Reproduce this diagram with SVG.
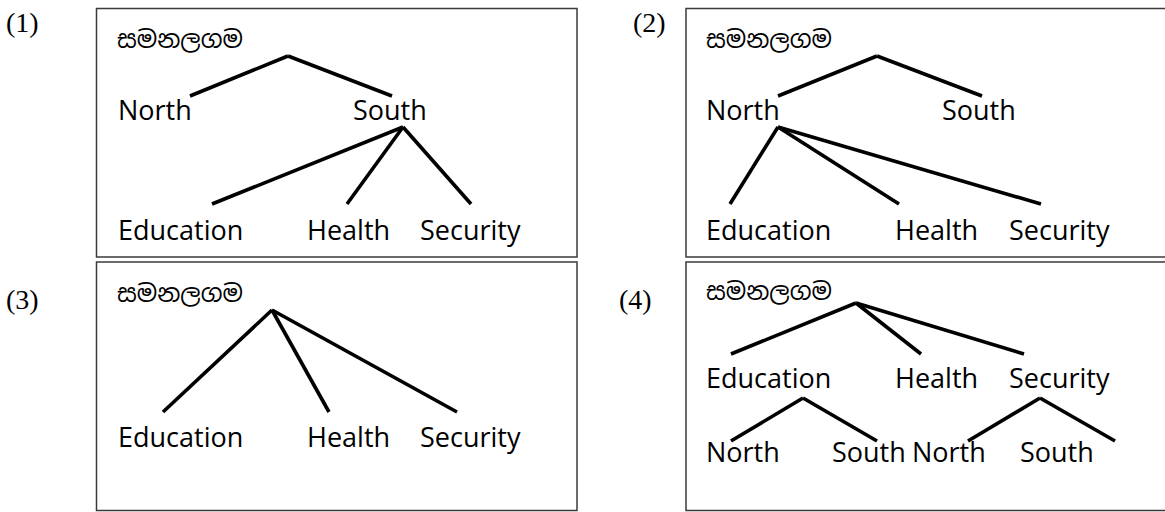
<svg xmlns="http://www.w3.org/2000/svg" width="1165" height="512" viewBox="0 0 1165 512">
<style>
.box{fill:#fff;stroke:#3a3a3a;stroke-width:1.5}
.num{font-family:"Liberation Serif","Times New Roman",serif;font-size:28px;fill:#000}
.si{font-family:"Noto Sans Sinhala","Iskoola Pota","Noto Sans",sans-serif;font-size:24px;fill:#000}
.t{font-family:"Open Sans","Noto Sans",sans-serif;font-size:27px;fill:#000}
.c line{stroke:#000;stroke-width:3.6;stroke-linecap:butt}
</style>
<rect width="1165" height="512" fill="#fff"/>
<!-- Panel 1 -->
<g id="panel1">
<text class="num" x="6" y="32">(1)</text>
<rect class="box" x="96.5" y="8.5" width="480.5" height="248.5"/>
<g id="p1-root"><text class="si" x="117" y="48">සමනලගම</text></g>
<g id="p1-north"><text class="t" x="118" y="120">North</text></g>
<g id="p1-south"><text class="t" x="353" y="120">South</text></g>
<g id="p1-education"><text class="t" x="118" y="240">Education</text></g>
<g id="p1-health"><text class="t" x="307" y="240">Health</text></g>
<g id="p1-security"><text class="t" x="420" y="240">Security</text></g>
<g class="c" id="p1-connectors">
<line x1="288" y1="56" x2="190" y2="96"/>
<line x1="288" y1="56" x2="392" y2="96"/>
<line x1="403" y1="127" x2="212" y2="204"/>
<line x1="403" y1="127" x2="347" y2="204"/>
<line x1="403" y1="127" x2="471" y2="204"/>
</g>
</g>
<!-- Panel 2 -->
<g id="panel2">
<text class="num" x="633" y="32">(2)</text>
<rect class="box" x="686" y="8.5" width="485" height="248.5"/>
<g id="p2-root"><text class="si" x="706" y="48">සමනලගම</text></g>
<g id="p2-north"><text class="t" x="706" y="120">North</text></g>
<g id="p2-south"><text class="t" x="942" y="120">South</text></g>
<g id="p2-education"><text class="t" x="706" y="240">Education</text></g>
<g id="p2-health"><text class="t" x="895" y="240">Health</text></g>
<g id="p2-security"><text class="t" x="1009" y="240">Security</text></g>
<g class="c" id="p2-connectors">
<line x1="877" y1="56" x2="778" y2="96"/>
<line x1="877" y1="56" x2="982" y2="96"/>
<line x1="778" y1="127" x2="730" y2="204"/>
<line x1="778" y1="127" x2="899" y2="204"/>
<line x1="778" y1="127" x2="1041" y2="204"/>
</g>
</g>
<!-- Panel 3 -->
<g id="panel3">
<text class="num" x="6" y="309">(3)</text>
<rect class="box" x="96.5" y="262" width="480.5" height="248.5"/>
<g id="p3-root"><text class="si" x="117" y="302">සමනලගම</text></g>
<g id="p3-education"><text class="t" x="118" y="447">Education</text></g>
<g id="p3-health"><text class="t" x="307" y="447">Health</text></g>
<g id="p3-security"><text class="t" x="420" y="447">Security</text></g>
<g class="c" id="p3-connectors">
<line x1="272" y1="310" x2="163" y2="412"/>
<line x1="272" y1="310" x2="329" y2="412"/>
<line x1="272" y1="310" x2="457" y2="412"/>
</g>
</g>
<!-- Panel 4 -->
<g id="panel4">
<text class="num" x="619" y="309">(4)</text>
<rect class="box" x="686" y="262" width="485" height="248.5"/>
<g id="p4-root"><text class="si" x="706" y="300">සමනලගම</text></g>
<g id="p4-education"><text class="t" x="706" y="388">Education</text></g>
<g id="p4-health"><text class="t" x="895" y="388">Health</text></g>
<g id="p4-security"><text class="t" x="1009" y="388">Security</text></g>
<g id="p4-edu-north"><text class="t" x="706" y="462">North</text></g>
<g id="p4-edu-south"><text class="t" x="832" y="462">South</text></g>
<g id="p4-sec-north"><text class="t" x="912" y="462">North</text></g>
<g id="p4-sec-south"><text class="t" x="1020" y="462">South</text></g>
<g class="c" id="p4-connectors">
<line x1="856" y1="303" x2="731" y2="354"/>
<line x1="856" y1="303" x2="921" y2="354"/>
<line x1="856" y1="303" x2="1024" y2="354"/>
<line x1="803" y1="398" x2="731" y2="441"/>
<line x1="803" y1="398" x2="877" y2="441"/>
<line x1="1040" y1="398" x2="968" y2="441"/>
<line x1="1040" y1="398" x2="1115" y2="441"/>
</g>
</g>
</svg>
